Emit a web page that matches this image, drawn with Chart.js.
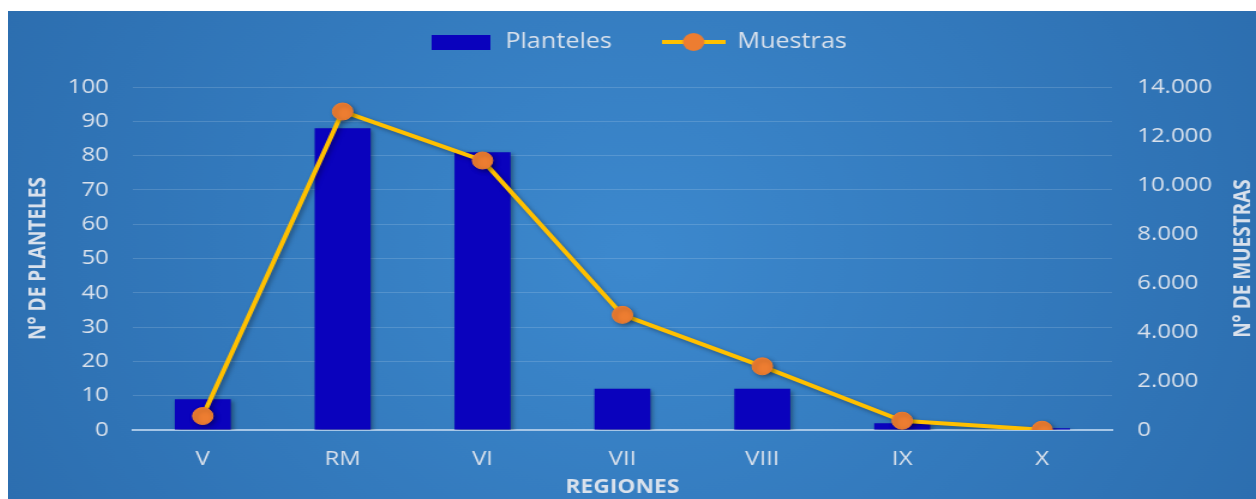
<!DOCTYPE html>
<html lang="es">
<head>
<meta charset="utf-8">
<title>Planteles y muestras por región</title>
<script src="https://cdn.jsdelivr.net/npm/chart.js"></script>
<style>
  html, body { margin: 0; padding: 0; background: #fff; }
  /* the chart is drawn narrow and stretched sideways */
  #wrap { position: absolute; left: 8px; top: 11px; width: 1040px; height: 488px;
          transform: scaleX(1.2); transform-origin: 0 0; }
</style>
</head>
<body>
<div id="wrap"><canvas id="chart" width="1040" height="488"></canvas></div>
<script>
// Data
const regiones = ['V', 'RM', 'VI', 'VII', 'VIII', 'IX', 'X'];
const planteles = [9, 88, 81, 12, 12, 2, 0.5];
const muestras = [570, 13000, 11000, 4700, 2600, 380, 10];

const plantelesMax = 100, plantelesStep = 10;
const muestrasMax = 14000, muestrasStep = 2000;

const FONT = "'Open Sans', 'DejaVu Sans', sans-serif";
const TEXT = '#d9e1ec';
const BAR = '#0a02bd';
const LINE = '#ffc000';
const MARKER = '#ed7d31';

// 14000 -> "14.000"
function miles(v) {
  return String(v).replace(/\B(?=(\d{3})+(?!\d))/g, '.');
}

// legend icons
function barIcon() {
  const c = document.createElement('canvas');
  c.width = 49; c.height = 15;
  const g = c.getContext('2d');
  g.fillStyle = BAR;
  g.fillRect(0, 0, 49, 15);
  return c;
}
function lineIcon() {
  const c = document.createElement('canvas');
  c.width = 53; c.height = 20;
  const g = c.getContext('2d');
  g.strokeStyle = LINE;
  g.lineWidth = 4;
  g.beginPath(); g.moveTo(0, 10); g.lineTo(53, 10); g.stroke();
  g.fillStyle = MARKER;
  g.beginPath(); g.arc(26.5, 10, 9, 0, Math.PI * 2); g.fill();
  return c;
}
const icons = [barIcon(), lineIcon()];

// blue radial background
const background = {
  id: 'background',
  beforeDraw(chart) {
    const { ctx, width, height } = chart;
    const g = ctx.createRadialGradient(width * 0.5, height * 0.5, 20, width * 0.5, height * 0.5, width * 0.6);
    g.addColorStop(0, '#3c88cd');
    g.addColorStop(1, '#2b6cad');
    ctx.save();
    ctx.fillStyle = g;
    ctx.fillRect(0, 0, width, height);
    ctx.restore();
  }
};

// soft drop shadow under bars and the line
const shadow = {
  id: 'shadow',
  beforeDatasetDraw(chart) {
    const ctx = chart.ctx;
    ctx.save();
    ctx.shadowColor = 'rgba(0, 0, 0, 0.35)';
    ctx.shadowBlur = 4;
    ctx.shadowOffsetX = 2;
    ctx.shadowOffsetY = 2;
  },
  afterDatasetDraw(chart) {
    chart.ctx.restore();
  }
};

// more room under the legend row
const legendSpace = {
  id: 'legendSpace',
  beforeLayout(chart) {
    const legend = chart.legend;
    if (!legend || legend._spaced) return;
    const fit = legend.fit;
    legend.fit = function () {
      fit.call(this);
      this.height = 97.5;
    };
    legend._spaced = true;
  }
};

// right axis title, read bottom to top like the left one
const rightTitle = {
  id: 'rightTitle',
  afterDraw(chart) {
    const { ctx, chartArea } = chart;
    ctx.save();
    ctx.translate(1030, (chartArea.top + chartArea.bottom) / 2);
    ctx.rotate(-Math.PI / 2);
    ctx.font = 'bold 19px ' + FONT;
    ctx.fillStyle = TEXT;
    ctx.textAlign = 'center';
    ctx.textBaseline = 'middle';
    ctx.fillText('N° DE MUESTRAS', 0, 0);
    ctx.restore();
  }
};

new Chart(document.getElementById('chart'), {
  type: 'bar',
  data: {
    labels: regiones,
    datasets: [
      {
        label: 'Planteles',
        data: planteles,
        backgroundColor: BAR,
        yAxisID: 'y',
        categoryPercentage: 0.8,
        barPercentage: 0.5,
        order: 1
      },
      {
        type: 'line',
        label: 'Muestras',
        data: muestras,
        borderColor: LINE,
        borderWidth: 4,
        pointRadius: 8.5,
        pointBorderWidth: 1,
        pointBackgroundColor: MARKER,
        pointBorderColor: MARKER,
        tension: 0,
        yAxisID: 'y1',
        order: 0
      }
    ]
  },
  options: {
    responsive: false,
    animation: false,
    layout: { padding: { top: -21.5, left: 11 } },
    plugins: {
      tooltip: { enabled: false },
      legend: {
        position: 'top',
        labels: {
          usePointStyle: true,
          pointStyleWidth: 52,
          padding: 42,
          color: TEXT,
          font: { family: FONT, size: 21 },
          generateLabels(chart) {
            return chart.data.datasets.map((ds, i) => ({
              text: ds.label,
              pointStyle: icons[i],
              fillStyle: 'transparent',
              strokeStyle: 'transparent',
              lineWidth: 0,
              fontColor: TEXT,
              hidden: false,
              datasetIndex: i
            }));
          }
        }
      }
    },
    scales: {
      x: {
        grid: { display: false, drawTicks: false },
        border: { display: true, color: '#a6c6e6', width: 2 },
        ticks: { color: TEXT, font: { family: FONT, size: 20 }, padding: 17, maxRotation: 0 },
        title: {
          display: true, text: 'REGIONES', color: TEXT,
          font: { family: FONT, size: 19, weight: 'bold' }, padding: { top: 0, bottom: 0 }
        },
        afterFit(scale) { scale.height = 69; }
      },
      y: {
        position: 'left',
        min: 0, max: plantelesMax,
        ticks: { stepSize: plantelesStep, color: TEXT, font: { family: FONT, size: 20 }, padding: 20 },
        grid: { color: 'rgba(255, 255, 255, 0.15)', lineWidth: 1, drawTicks: false },
        border: { display: false },
        title: {
          display: true, text: 'N° DE PLANTELES', color: TEXT,
          font: { family: FONT, size: 19, weight: 'bold' }, padding: { top: 3, bottom: 0 }
        },
        afterFit(scale) { scale.width = 93; }
      },
      y1: {
        position: 'right',
        min: 0, max: muestrasMax,
        ticks: {
          stepSize: muestrasStep, color: TEXT, font: { family: FONT, size: 20 }, padding: 21,
          callback: v => miles(v)
        },
        grid: { display: false, drawTicks: false },
        border: { display: false },
        afterFit(scale) { scale.width = 120; }
      }
    }
  },
  plugins: [background, shadow, legendSpace, rightTitle]
});
</script>
</body>
</html>
